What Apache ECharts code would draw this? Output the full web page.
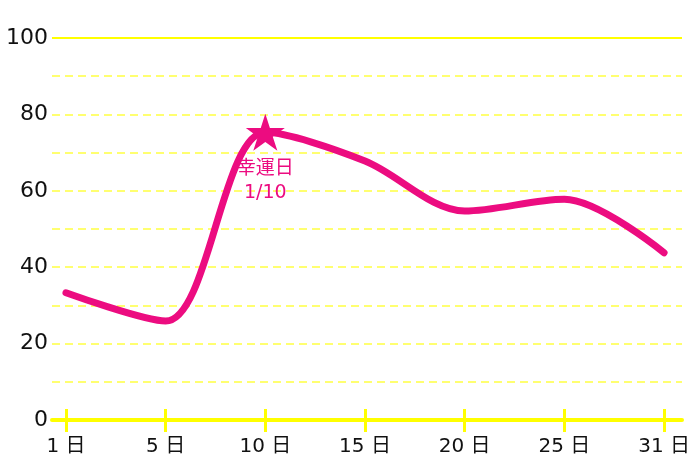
<!DOCTYPE html>
<html><head><meta charset="utf-8">
<script src="https://cdn.jsdelivr.net/npm/echarts@6/dist/echarts.min.js"></script>
<style>html,body{margin:0;padding:0;background:#fff}#c{width:700px;height:467px}</style>
</head><body><div id="c"></div>
<script>
const categories = ['1 日','5 日','10 日','15 日','20 日','25 日','31 日'];
const values = [33.3, 25.9, 75.3, 67.8, 54.7, 57.8, 43.8];
const luckyIndex = 2;
const luckyLabel = '幸運日\n1/10';
const yTicks = [0, 20, 40, 60, 80, 100];

const PINK = '#ec0c80';
const FONT = '"DejaVu Sans", "Noto Sans CJK JP", sans-serif';
const star = 'path://M50,0 L61.2,34.5 L97.6,34.5 L68.2,55.9 L79.4,90.5 L50,69.1 L20.6,90.5 L31.8,55.9 L2.4,34.5 L38.8,34.5 Z';
const idx = categories.map((c, i) => i);

const data = values.map((v, i) => {
  if (i === luckyIndex) {
    return {
      value: [i, v], symbol: star, symbolSize: [39, 37],
      itemStyle: {color: PINK},
      label: {show: true, position: 'bottom', distance: 6, formatter: luckyLabel,
        color: PINK, fontSize: 19, fontFamily: FONT, lineHeight: 24}
    };
  }
  return {value: [i, v]};
});

const chart = echarts.init(document.getElementById('c'));
const xBase = {type: 'value', min: -0.14, max: 6.18, position: 'bottom', splitLine: {show: false}};
chart.setOption({
  animation: false,
  grid: {left: 52, right: 18, top: 38, bottom: 47, containLabel: false},
  xAxis: [
    Object.assign({}, xBase, {
      axisLine: {show: true, onZero: false, lineStyle: {color: '#ffff00', width: 4}},
      axisTick: {show: true, customValues: idx, length: 12, lineStyle: {color: '#ffff00', width: 3}},
      axisLabel: {show: true, customValues: idx, margin: 17, color: '#111', fontSize: 20, fontFamily: FONT,
        formatter: v => categories[Math.round(v)]}
    }),
    Object.assign({}, xBase, {
      axisLine: {show: false},
      axisTick: {show: true, inside: true, customValues: idx, length: 11, lineStyle: {color: '#ffff00', width: 3}},
      axisLabel: {show: false}
    })
  ],
  yAxis: {
    type: 'value', min: 0, max: 100, interval: 10,
    axisLine: {show: false}, axisTick: {show: false},
    axisLabel: {color: '#111', fontSize: 22, fontFamily: FONT, margin: 4,
      formatter: v => yTicks.indexOf(v) >= 0 ? String(v) : ''},
    splitLine: {show: true, lineStyle: {color: '#ffff70', width: 2, type: [8, 5]}}
  },
  series: [{
    type: 'line', xAxisIndex: 0, data: data, smooth: 0.32, symbol: 'none',
    lineStyle: {color: PINK, width: 7, cap: 'round', join: 'round'},
    itemStyle: {color: PINK},
    markLine: {silent: true, symbol: 'none', label: {show: false},
      lineStyle: {color: '#ffff00', width: 2, type: 'solid'},
      data: [{yAxis: 100}]}
  }]
});
</script></body></html>
